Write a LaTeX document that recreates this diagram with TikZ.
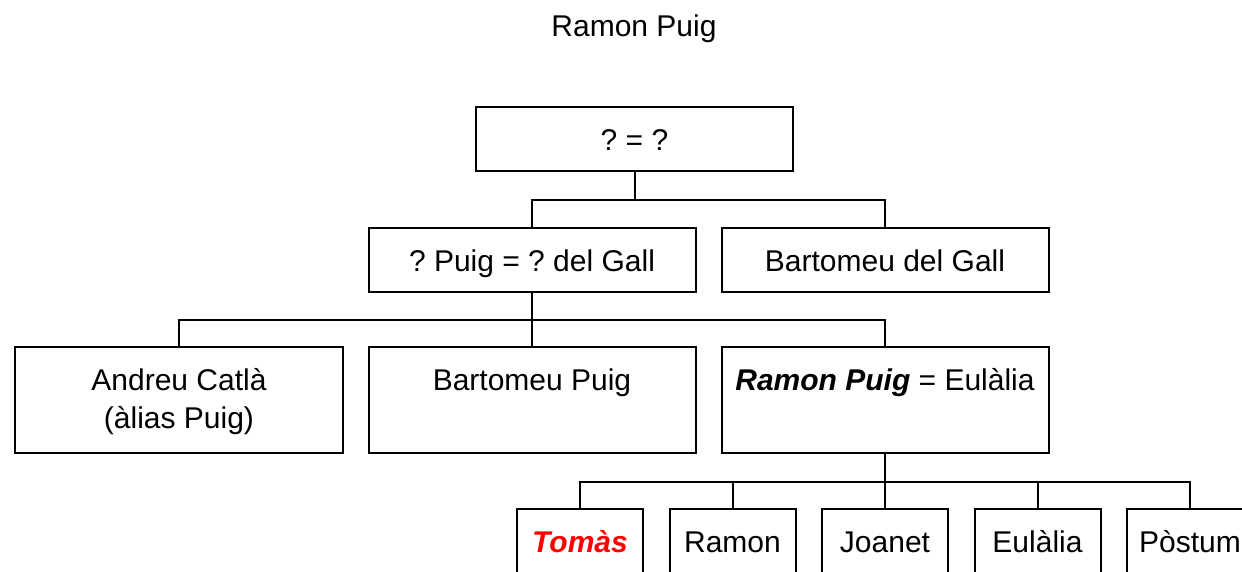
\documentclass[tikz,border=0pt]{standalone}
\usepackage{fontspec}
\setmainfont{Liberation Sans}
\usepackage{xcolor}
\usetikzlibrary{positioning}
\definecolor{ink}{HTML}{000000}
\definecolor{hilite}{HTML}{FF0000}
\frenchspacing

\begin{document}
\begin{tikzpicture}[x=1pt,y=-1pt,line width=2pt,
    every node/.style={font=\fontsize{30}{38}\selectfont,text=ink},
    famblock/.style={draw=ink,rectangle,inner sep=0pt,anchor=north,text height=43pt,text depth=21pt,minimum width=327pt},
    tallblock/.style={famblock,text depth=63pt},
    kidblock/.style={famblock,minimum width=126pt}]
  \useasboundingbox (0,0) rectangle (1242,571);
  \clip (0,0) rectangle (1242,571);
  \node[anchor=base] (title) at (634,36) {Ramon Puig};
  \node[famblock,minimum width=317pt] (gp) at (634.5,106) {? = ?};
  \node[famblock] (pa) at (532,227) {? Puig = ? del Gall};
  \node[famblock] (bgall) at (885,227) {Bartomeu del Gall};
  \node[tallblock,minimum width=328pt] (andreu) at (179,346) {\begin{tabular}[t]{@{}c@{}}Andreu Catlà\\(àlias Puig)\end{tabular}};
  \node[tallblock] (bartomeu) at (532,346) {Bartomeu Puig};
  \node[tallblock] (ramon) at (885,346) {\textbf{\textit{Ramon Puig}} = Eulàlia};
  \node[kidblock] (tomas) at (580,508) {\textcolor{hilite}{\textbf{\textit{Tomàs}}}};
  \node[kidblock] (ramonjr) at (732.5,508) {Ramon};
  \node[kidblock] (joanet) at (885,508) {Joanet};
  \node[kidblock] (eulalia) at (1037.5,508) {Eulàlia};
  \node[kidblock] (postum) at (1190,508) {Pòstum};
  \draw[draw=ink] (gp.south) -- ++(0,28) coordinate (j1);
  \draw[draw=ink] (pa.north) |- (j1) -| (bgall.north);
  \draw[draw=ink] (pa.south) -- (bartomeu.north);
  \path (pa.south) ++(0,27) coordinate (j2);
  \draw[draw=ink] (andreu.north) |- (j2) -| (ramon.north);
  \draw[draw=ink] (ramon.south) -- (joanet.north);
  \path (ramon.south) ++(0,28) coordinate (j3);
  \draw[draw=ink] (tomas.north) |- (j3) -| (postum.north);
  \foreach \kid in {ramonjr,eulalia} {\draw[draw=ink] (\kid.north) -- (\kid.north |- j3);}
\end{tikzpicture}
\end{document}
